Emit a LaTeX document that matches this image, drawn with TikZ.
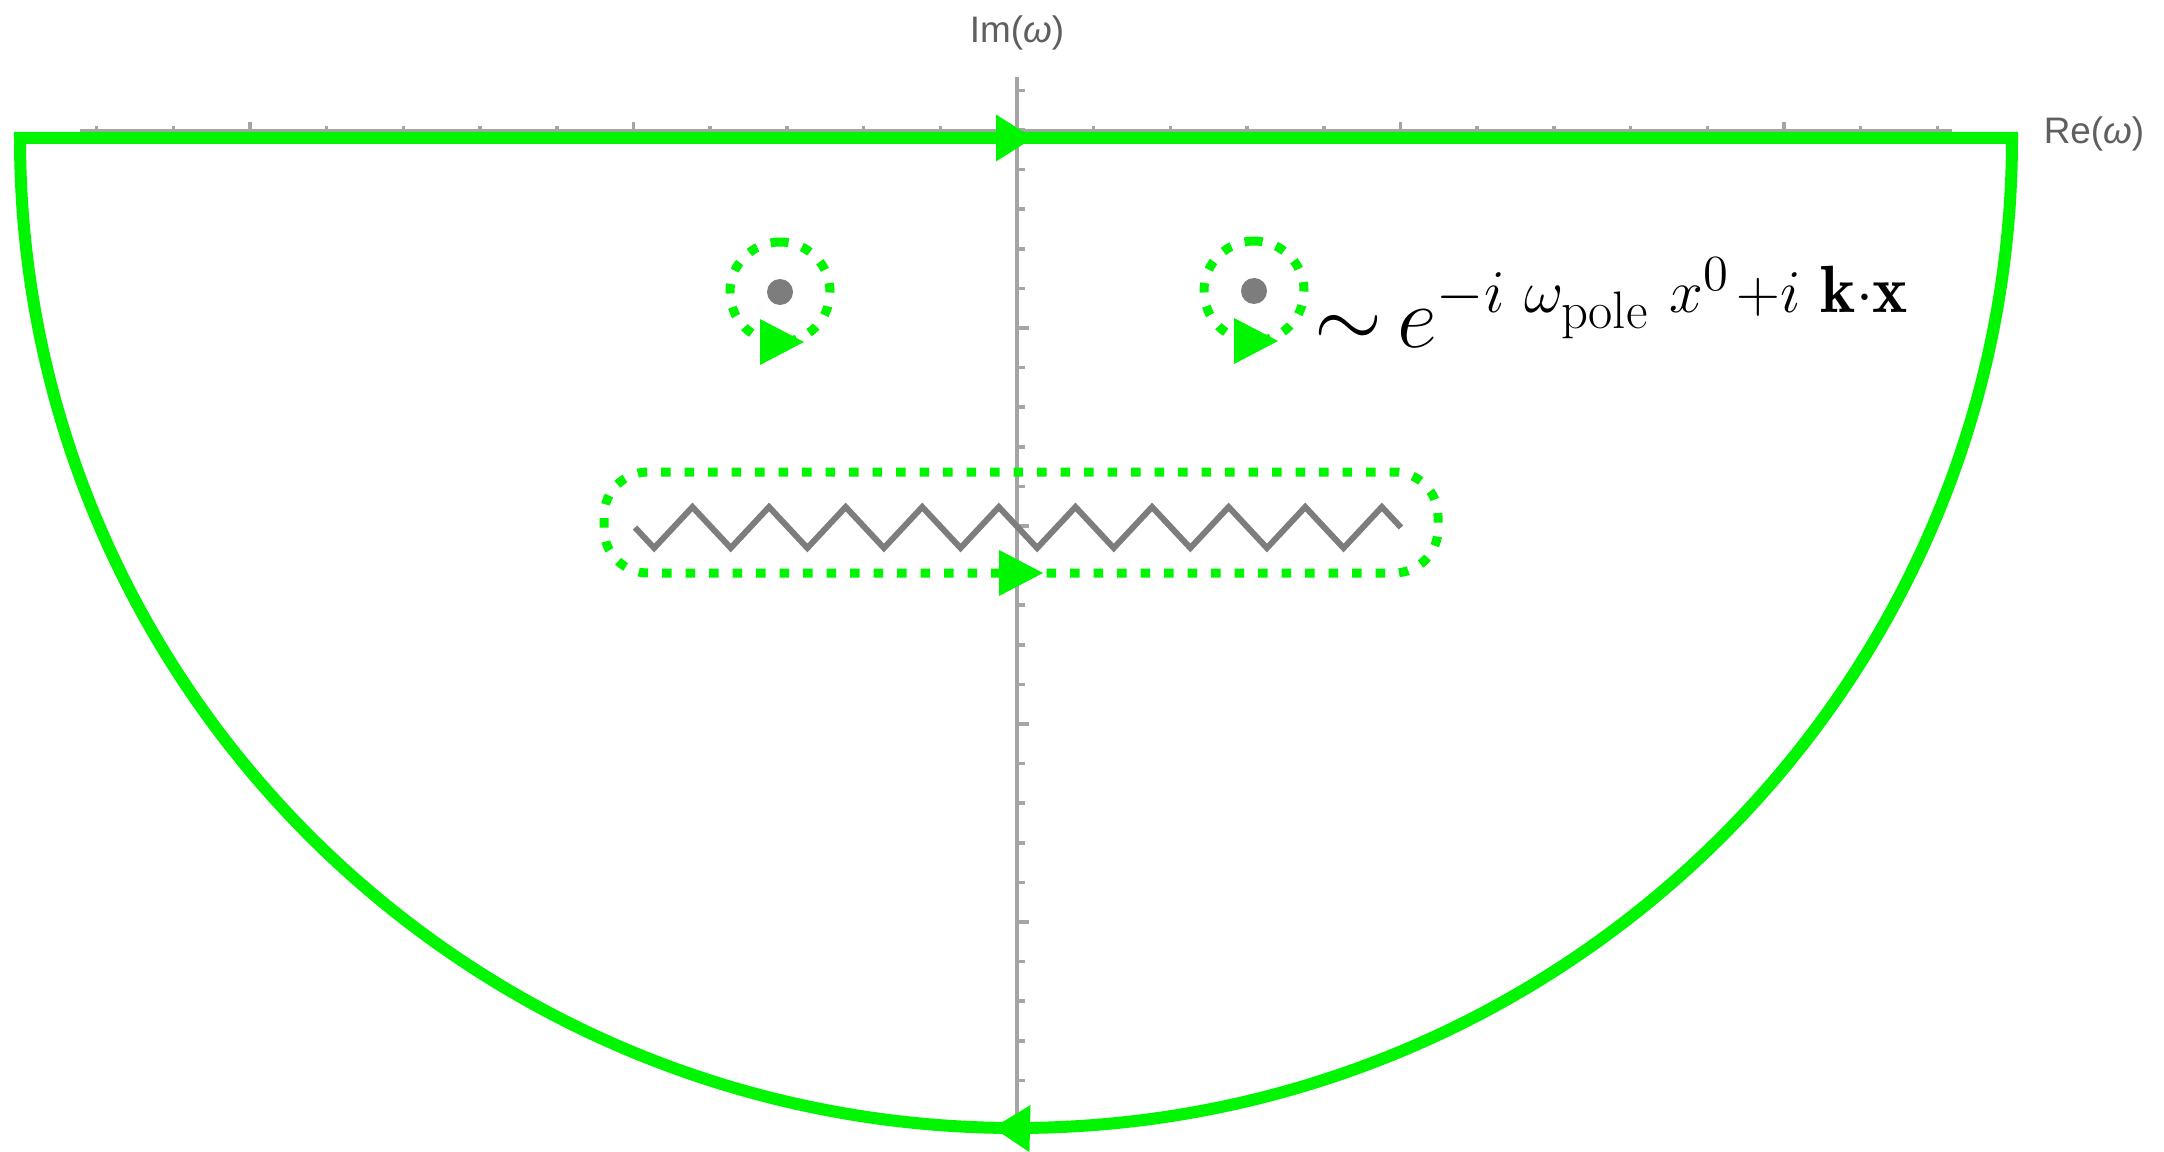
\documentclass[tikz,border=0pt]{standalone}
\usepackage{amsmath}
\usepackage{fontspec}
\newfontfamily\axisfont{Liberation Sans}
\DeclareMathSizes{23}{23}{19}{15}
\usetikzlibrary{arrows.meta, decorations.markings}
\definecolor{contourgreen}{RGB}{0,245,0}
\definecolor{cutgray}{RGB}{125,125,125}
\definecolor{axisgray}{RGB}{165,165,165}
\definecolor{labelgray}{RGB}{95,95,95}
\tikzset{
  flowtip/.tip={Triangle[length=3.7mm, width=4.7mm, line width=0pt]},
  looptip/.tip={Triangle[length=4.4mm, width=4.6mm, line width=0pt]},
  contour/.style={draw=contourgreen, line width=1.2mm, line join=miter},
  dotloop/.style={draw=contourgreen, line width=0.9mm,
    dash pattern=on 0.95mm off 1.4mm},
  axisline/.style={draw=axisgray, line width=0.35mm},
  cutline/.style={draw=cutgray, line width=0.6mm},
  poledot/.style={circle, fill=cutgray, minimum size=2.6mm, inner sep=0pt},
  axislabel/.style={font=\axisfont\fontsize{10.5}{12}\selectfont,
    text=labelgray, inner sep=0pt},
  loopmark/.style={postaction={decorate},
    decoration={markings, mark=at position 0.5 with
      {\pgftransformxshift{2.4mm}\arrow{looptip}}}},
}

\begin{document}
\begin{tikzpicture}
  \useasboundingbox (0,0) rectangle (21.64,-11.52);
  % axes
  \draw[axisline] (0.80,-1.31) -- (19.52,-1.31);
  \draw[axisline] (10.17,-0.77) -- (10.17,-11.20);
  \foreach \k in {-12,...,12}
    \draw[axisline] ({10.17+\k*0.767},-1.31) -- ++(0,0.05);
  \foreach \k in {-10,-5,5,10}
    \draw[axisline] ({10.17+\k*0.767},-1.31) -- ++(0,0.09);
  \foreach \k in {-1,...,25}
    \draw[axisline] (10.17,{-1.30-\k*0.396}) -- ++(0.08,0);
  \foreach \k in {5,10,15,20,25}
    \draw[axisline] (10.17,{-1.30-\k*0.396}) -- ++(0.12,0);
  \node[axislabel] (imlabel) at (10.17,-0.33) {Im(\textit{ω})};
  \node[axislabel] (relabel) at (20.94,-1.34) {Re(\textit{ω})};

  % big contour
  \draw[contour, postaction={decorate},
    decoration={markings,
      mark=at position 10.13cm with {\arrow{flowtip}},
      mark=at position 35.75cm with {\arrow{flowtip}}}]
    (0.20,-1.38) -- (20.12,-1.38)
    arc[start angle=0, end angle=-180, x radius=9.96, y radius=9.90] -- cycle;

  % poles
  \node[poledot] (lpole) at (7.80,-2.92) {};
  \node[poledot] (rpole) at (12.54,-2.91) {};
  \draw[dotloop, loopmark] (lpole.center) ++(0,0.5)
    arc[start angle=90, delta angle=360, radius=0.5];
  \draw[dotloop, loopmark] (rpole.center) ++(0,0.5)
    arc[start angle=90, delta angle=360, radius=0.5];
  \node[anchor=base west, inner sep=0pt, font=\fontsize{23}{28}\selectfont]
    (waveform) at (13.14,-3.48)
    {${\sim}\mskip3mu e^{-i\mskip6mu\omega_{\mathrm{pole}}\mskip6mu x^0
      \mskip2mu+i\mskip6mu\mathbf{k}\cdot\mathbf{x}}$};

  % branch cut
  \draw[cutline] (6.35,-5.275) \foreach \k in {1,...,10}
    {-- ++(0.1915,-0.205) -- ++(0.383,0.41) -- ++(0.1915,-0.205)};
  \draw[dotloop, rounded corners=4.4mm, postaction={decorate},
    decoration={markings, mark=at position 2mm with {\arrow{looptip}}}]
    (9.79,-5.73) -- (14.38,-5.73) -- (14.38,-4.72) -- (6.04,-4.72)
    -- (6.04,-5.73) -- cycle;
\end{tikzpicture}
\end{document}
